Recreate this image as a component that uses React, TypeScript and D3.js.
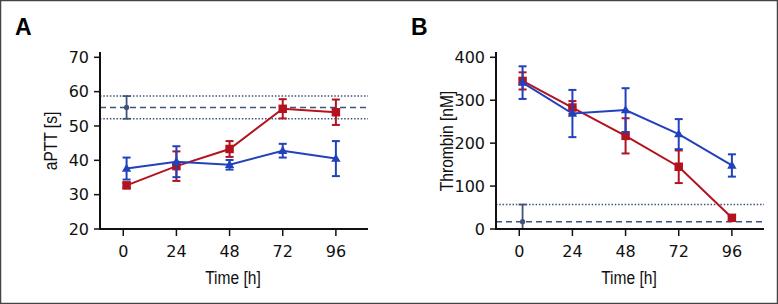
import React from "react";
import * as d3 from "d3";

const times = [1.5, 24, 48, 72, 96];
const xTicks = [0, 24, 48, 72, 96];

// Panel A: aPTT [s]
const aRedMean = [32.7, 38.3, 43.3, 55.0, 54.0];
const aRedErr = [0.8, 4.3, 2.3, 2.8, 3.7];
const aBlueMean = [37.6, 39.6, 38.7, 42.8, 40.5];
const aBlueErr = [3.2, 4.5, 1.4, 2.0, 5.1];
const aRefMean = 55.4;
const aRefErr = 3.3;
const aTicks = [20, 30, 40, 50, 60, 70];

// Panel B: Thrombin [nM]
const bRedMean = [345, 283, 217, 145, 26];
const bRedErr = [20, 15, 41, 38, 5];
const bBlueMean = [341, 269, 277, 221, 148];
const bBlueErr = [38, 55, 51, 35, 26];
const bRefMean = 17;
const bRefErr = 40;
const bTicks = [0, 100, 200, 300, 400];

const RED = "#b3121f";
const BLUE = "#2141bd";
const REF = "#3f5479";

type PanelProps = {
  x0: number;
  label: string;
  yLabel: string;
  yDomain: [number, number];
  yTicks: number[];
  red: number[];
  redErr: number[];
  blue: number[];
  blueErr: number[];
  refMean: number;
  refErr: number;
};

function Panel(p: PanelProps) {
  const x = d3.scaleLinear().domain([-10.5, 110.5]).range([p.x0, p.x0 + 268]);
  const y = d3.scaleLinear().domain(p.yDomain).range([229, 57.3]);
  const yMin = p.yDomain[0];
  const clampY = (v: number) => y(Math.max(yMin, v));
  const line = d3
    .line<number>()
    .x((_, i) => x(times[i]))
    .y((d) => y(d));
  const sq = d3.symbol().type(d3.symbolSquare).size(72)()!;
  const tri = d3.symbol().type(d3.symbolTriangle).size(38)()!;
  const left = p.x0;
  const right = p.x0 + 268;
  const errBar = (xv: number, m: number, e: number, color: string, key: string, w = 2) => {
    const top = y(m + e);
    const bot = m - e < yMin ? null : y(m - e);
    const cx = x(xv);
    return (
      <g key={key} stroke={color} strokeWidth={w} fill="none">
        <line x1={cx} x2={cx} y1={top} y2={clampY(m - e)} />
        <line x1={cx - 4} x2={cx + 4} y1={top} y2={top} />
        {bot !== null && <line x1={cx - 4} x2={cx + 4} y1={bot} y2={bot} />}
      </g>
    );
  };
  const refLines = [p.refMean + p.refErr, p.refMean - p.refErr].filter((v) => v >= yMin);
  return (
    <g>
      <text x={p.x0 - 85} y={35} fontFamily="Liberation Sans, Arial, sans-serif" fontWeight="bold" fontSize={23}>
        {p.label}
      </text>
      {refLines.map((v, i) => (
        <line key={"d" + i} x1={left} x2={right} y1={y(v)} y2={y(v)} stroke={REF} strokeWidth={1.5} strokeDasharray="1.5,1.8" />
      ))}
      <line x1={left} x2={right} y1={y(p.refMean)} y2={y(p.refMean)} stroke={REF} strokeWidth={1.6} strokeDasharray="6,4" />
      {errBar(times[0], p.refMean, p.refErr, REF, "ref", 1.8)}
      <circle cx={x(times[0])} cy={y(p.refMean)} r={2.6} fill={REF} />
      {p.red.map((m, i) => errBar(times[i], m, p.redErr[i], RED, "re" + i))}
      <path d={line(p.red)!} fill="none" stroke={RED} strokeWidth={2} />
      {p.red.map((m, i) => (
        <path key={"rs" + i} d={sq} transform={`translate(${x(times[i])},${y(m)})`} fill={RED} />
      ))}
      {p.blue.map((m, i) => errBar(times[i], m, p.blueErr[i], BLUE, "be" + i))}
      <path d={line(p.blue)!} fill="none" stroke={BLUE} strokeWidth={2} />
      {p.blue.map((m, i) => (
        <path key={"bs" + i} d={tri} transform={`translate(${x(times[i])},${y(m) + 0.5})`} fill={BLUE} />
      ))}
      <line x1={left} x2={left} y1={52} y2={230} stroke="#111" strokeWidth={2} />
      <line x1={left - 1} x2={right} y1={229} y2={229} stroke="#111" strokeWidth={2} />
      {p.yTicks.map((t) => (
        <g key={"yt" + t}>
          <line x1={left - 6} x2={left} y1={y(t)} y2={y(t)} stroke="#111" strokeWidth={1.5} />
          <text x={left - 11} y={y(t)} dy="0.36em" textAnchor="end" fontFamily="DejaVu Sans, sans-serif" fontSize={16} fill="#111">
            {t}
          </text>
        </g>
      ))}
      {xTicks.map((t) => (
        <g key={"xt" + t}>
          <line x1={x(t)} x2={x(t)} y1={229} y2={236} stroke="#111" strokeWidth={1.5} />
          <text x={x(t)} y={256.5} textAnchor="middle" fontFamily="DejaVu Sans, sans-serif" fontSize={16} fill="#111">
            {t}
          </text>
        </g>
      ))}
      <text
        transform={`translate(${p.x0 + 133},284) scale(0.82,1)`}
        textAnchor="middle"
        fontFamily="Liberation Sans, Arial, sans-serif"
        fontSize={19}
        fill="#111"
      >
        Time [h]
      </text>
      <text
        transform={`translate(${p.x0 - 43},141) rotate(-90) scale(0.82,1)`}
        textAnchor="middle"
        fontFamily="Liberation Sans, Arial, sans-serif"
        fontSize={19}
        fill="#111"
      >
        {p.yLabel}
      </text>
    </g>
  );
}

export default function App() {
  return (
    <svg width={778} height={304} style={{ position: "absolute", left: 0, top: 0, background: "#fff" }}>
      <rect x={0.5} y={0.5} width={777} height={303} fill="#fff" stroke="#444" strokeWidth={1.5} />
      <Panel
        x0={100}
        label="A"
        yLabel="aPTT [s]"
        yDomain={[20, 70]}
        yTicks={aTicks}
        red={aRedMean}
        redErr={aRedErr}
        blue={aBlueMean}
        blueErr={aBlueErr}
        refMean={aRefMean}
        refErr={aRefErr}
      />
      <Panel
        x0={496}
        label="B"
        yLabel="Thrombin [nM]"
        yDomain={[0, 400]}
        yTicks={bTicks}
        red={bRedMean}
        redErr={bRedErr}
        blue={bBlueMean}
        blueErr={bBlueErr}
        refMean={bRefMean}
        refErr={bRefErr}
      />
    </svg>
  );
}
